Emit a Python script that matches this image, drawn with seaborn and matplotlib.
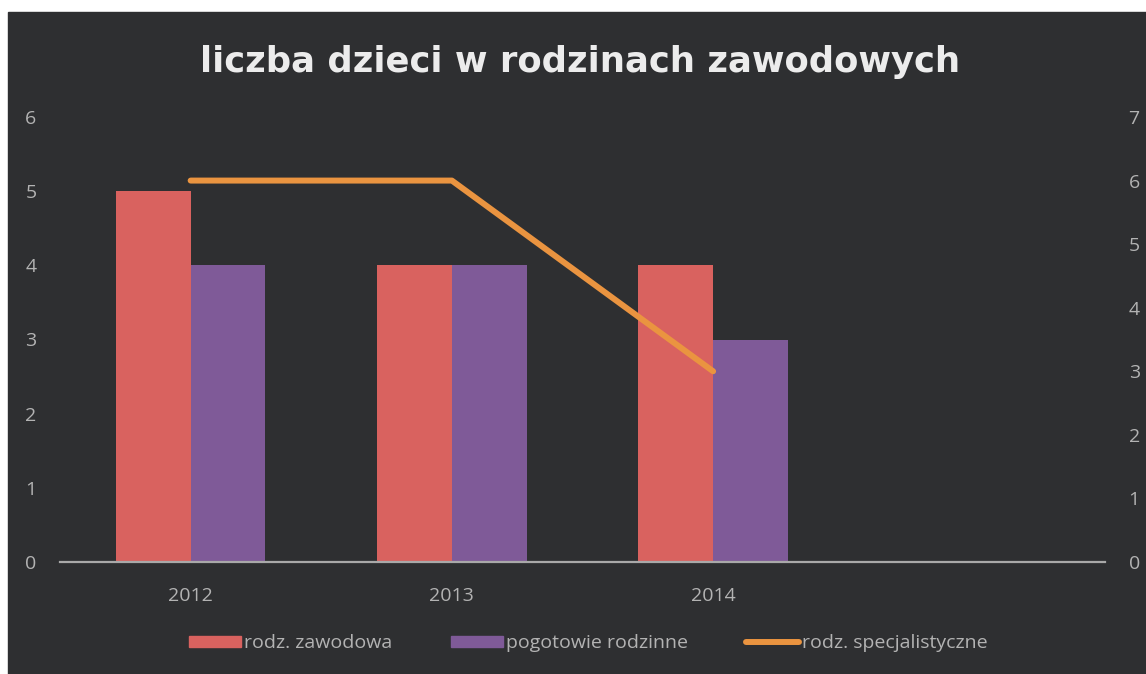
import numpy as np
import pandas as pd
import seaborn as sns
import matplotlib.pyplot as plt
from matplotlib.patches import Rectangle, Patch
from matplotlib.lines import Line2D

lata = ["2012", "2013", "2014"]
rodz_zawodowa = [5, 4, 4]
pogotowie_rodzinne = [4, 4, 3]
rodz_specjalistyczne = [6, 6, 3]

bars = pd.DataFrame({
    "rok": lata * 2,
    "liczba": rodz_zawodowa + pogotowie_rodzinne,
    "typ": ["rodz. zawodowa"] * 3 + ["pogotowie rodzinne"] * 3,
})
line = pd.DataFrame({"poz": range(len(lata)), "liczba": rodz_specjalistyczne})

bg = "#2e2f31"
red = "#d9625f"
purple = "#7f5a98"
orange = "#ea9440"
grey = "#b3b3b3"

sns.set_theme(style="dark")
plt.rcParams["font.family"] = ["Open Sans", "DejaVu Sans"]

fig = plt.figure(figsize=(11.46, 6.74), dpi=100, facecolor="white")
fig.patches.append(Rectangle((8 / 1146, 0), 1, 1 - 12 / 674, transform=fig.transFigure,
                             color=bg, zorder=-10))

ax = fig.add_axes([60 / 1146, 112 / 674, 1045 / 1146, 445 / 674])
ax.set_facecolor("none")
sns.barplot(data=bars, x="rok", y="liczba", hue="typ", order=lata,
            palette=[red, purple], width=0.573, saturation=1, legend=False,
            edgecolor="none", linewidth=0, ax=ax)

ax2 = ax.twinx()
sns.lineplot(data=line, x="poz", y="liczba", color=orange, lw=4.3, ax=ax2, legend=False)
ax2.lines[0].set_solid_capstyle("round")
ax2.lines[0].set_solid_joinstyle("round")

ax.set_xlim(-0.5, 3.5)
ax.set_ylim(0, 6)
ax2.set_ylim(0, 7)
ax.set_yticks(range(0, 7))
ax2.set_yticks(range(0, 8))
ax.set_xlabel("")
ax.set_ylabel("")
ax2.set_ylabel("")
ax2.set_facecolor("none")

for a in (ax, ax2):
    for s in a.spines.values():
        s.set_visible(False)
    a.grid(False)
ax.spines["bottom"].set_visible(True)
ax.spines["bottom"].set_color("#a9a9a9")
ax.spines["bottom"].set_linewidth(1.6)

ax.tick_params(axis="y", length=0, pad=17, labelsize=14, labelcolor=grey)
ax.tick_params(axis="x", length=0, pad=18, labelsize=14, labelcolor=grey)
ax2.tick_params(axis="y", length=0, pad=17, labelsize=14, labelcolor=grey)

fig.text(0.506, 1 - 62 / 674, "liczba dzieci w rodzinach zawodowych", ha="center", va="center",
         fontsize=25.5, fontweight="bold", color="#ececec", family="DejaVu Sans")

handles = [Patch(color=red), Patch(color=purple), Line2D([], [], color=orange, lw=4.3)]
labels = ["rodz. zawodowa", "pogotowie rodzinne", "rodz. specjalistyczne"]
leg = fig.legend(handles, labels, loc="center", bbox_to_anchor=(588 / 1146, 1 - 643 / 674),
                 ncol=3, frameon=False, fontsize=14, handlelength=2.7, handleheight=0.5,
                 handletextpad=0.15, columnspacing=3.0)
for t in leg.get_texts():
    t.set_color(grey)

fig.savefig("out.png", dpi=100, facecolor=fig.get_facecolor())
